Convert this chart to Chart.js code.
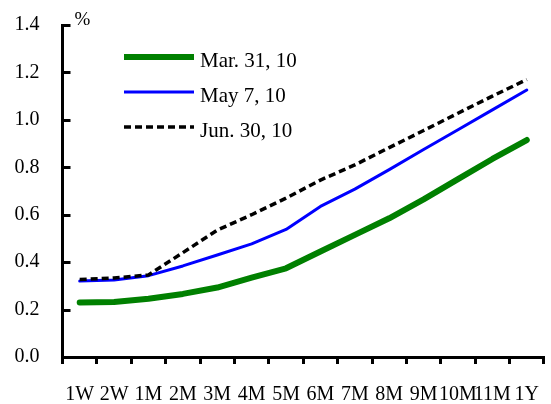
<!DOCTYPE html>
<html>
<head>
<meta charset="utf-8">
<script src="https://cdn.jsdelivr.net/npm/chart.js@4"></script>
<style>
  html, body { margin: 0; padding: 0; overflow: hidden; background: #fff; }
  #wrap { width: 558px; height: 404px; }
</style>
</head>
<body>
<div id="wrap"><canvas id="c" width="558" height="404"></canvas></div>
<script>
// Money-market yield curve, 1 week to 1 year (%)
const tenors = ['1W', '2W', '1M', '2M', '3M', '4M', '5M', '6M', '7M', '8M', '9M', '10M', '11M', '1Y'];
const seriesNames = ['Mar. 31, 10', 'May 7, 10', 'Jun. 30, 10'];
const mar31 = [0.23, 0.232, 0.246, 0.266, 0.293, 0.335, 0.374, 0.445, 0.515, 0.585, 0.665, 0.75, 0.835, 0.915];
const may7  = [0.32, 0.325, 0.343, 0.384, 0.43, 0.477, 0.538, 0.635, 0.708, 0.79, 0.875, 0.958, 1.042, 1.126];
const jun30 = [0.327, 0.333, 0.346, 0.44, 0.535, 0.6, 0.67, 0.746, 0.81, 0.883, 0.955, 1.028, 1.10, 1.17];
const yMin = 0, yMax = 1.4, yStep = 0.2;
const unitLabel = '%';

const FONT = '"Liberation Serif", "Times New Roman", serif';

// Short tick marks pointing into the plot on the value axis, plus the unit label
const innerTicks = {
  id: 'innerTicks',
  afterDraw(chart) {
    const { ctx, chartArea } = chart;
    const y = chart.scales.y;
    ctx.save();
    ctx.strokeStyle = '#000';
    ctx.lineWidth = 3;
    y.ticks.forEach(t => {
      const py = Math.round(y.getPixelForValue(t.value)) + 0.5;
      ctx.beginPath();
      ctx.moveTo(chartArea.left, py);
      ctx.lineTo(chartArea.left + 8, py);
      ctx.stroke();
    });
    ctx.fillStyle = '#000';
    ctx.font = '19px ' + FONT;
    ctx.textBaseline = 'alphabetic';
    ctx.textAlign = 'left';
    ctx.fillText(unitLabel, chartArea.left + 12, chartArea.top);
    ctx.restore();
  }
};

// Legend drawn inside the plot, upper left
const innerLegend = {
  id: 'innerLegend',
  afterDraw(chart) {
    const { ctx } = chart;
    const x0 = 124, x1 = 194, top = 57, gap = 35;
    ctx.save();
    chart.data.datasets.forEach((ds, i) => {
      const ly = top + i * gap;
      ctx.beginPath();
      ctx.strokeStyle = ds.borderColor;
      ctx.lineWidth = ds.borderWidth;
      ctx.setLineDash(ds.borderDash || []);
      ctx.lineCap = 'butt';
      ctx.moveTo(x0, ly);
      ctx.lineTo(x1, ly);
      ctx.stroke();
      ctx.setLineDash([]);
      ctx.fillStyle = '#000';
      ctx.font = '21px ' + FONT;
      ctx.textBaseline = 'alphabetic';
      ctx.textAlign = 'left';
      ctx.fillText(ds.label, x1 + 6, ly + 10);
    });
    ctx.restore();
  }
};

new Chart(document.getElementById('c'), {
  type: 'line',
  data: {
    labels: tenors,
    datasets: [
      { label: seriesNames[0], data: mar31, borderColor: '#008000', borderWidth: 6, borderCapStyle: 'round', order: 3 },
      { label: seriesNames[1], data: may7, borderColor: '#0000ff', borderWidth: 3, borderCapStyle: 'round', order: 2 },
      { label: seriesNames[2], data: jun30, borderColor: '#000000', borderWidth: 3.5, borderDash: [7, 4], borderCapStyle: 'butt', order: 1 }
    ].map(d => Object.assign(d, { pointRadius: 0, fill: false, tension: 0, borderJoinStyle: 'round' }))
  },
  options: {
    responsive: false,
    animation: false,
    devicePixelRatio: 1,
    layout: { padding: { top: 25, right: 0, left: 0, bottom: 0 } },
    plugins: { legend: { display: false }, tooltip: { enabled: false } },
    scales: {
      x: {
        type: 'category',
        offset: true,
        grid: { offset: true, drawOnChartArea: false, drawTicks: true, tickLength: 7, color: '#000', lineWidth: 3 },
        border: { display: true, color: '#000', width: 3 },
        ticks: { color: '#000', font: { family: FONT, size: 20 }, maxRotation: 0, minRotation: 0, autoSkip: false, padding: 19 },
        afterFit(s) { s.height = 47; }
      },
      y: {
        min: yMin,
        max: yMax,
        grid: { drawOnChartArea: false, drawTicks: false },
        border: { display: true, color: '#000', width: 3 },
        ticks: { stepSize: yStep, color: '#000', font: { family: FONT, size: 20 }, padding: 23,
                 callback: v => Number(v).toFixed(1) },
        afterFit(s) { s.width = 62.5; s.paddingTop = 0; s.paddingBottom = 0; }
      }
    }
  },
  plugins: [innerTicks, innerLegend]
});
</script>
</body>
</html>
